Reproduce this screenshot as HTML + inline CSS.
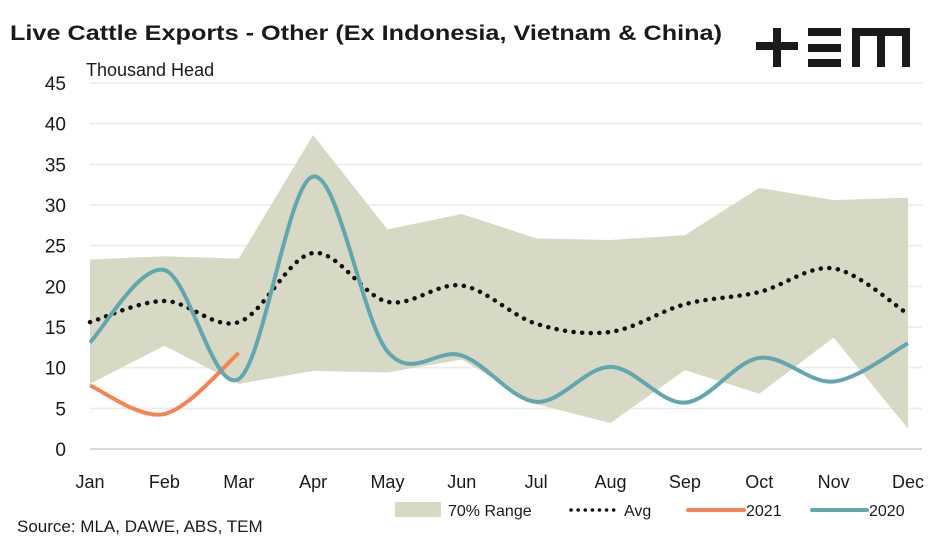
<!DOCTYPE html>
<html><head><meta charset="utf-8"><style>
body{margin:0;background:#fff;font-family:"Liberation Sans",sans-serif}
svg text{font-family:"Liberation Sans",sans-serif;fill:#1a1a1a}
</style></head><body>
<svg id="c" width="945" height="543" viewBox="0 0 945 543">
<text x="10" y="40" font-size="21" font-weight="bold" textLength="712" lengthAdjust="spacingAndGlyphs">Live Cattle Exports - Other (Ex Indonesia, Vietnam &amp; China)</text>
<text x="86" y="76" font-size="18">Thousand Head</text>
<g fill="#1a1a1a">
<rect x="756" y="42" width="42" height="8"/><rect x="773" y="28" width="8" height="39"/>
<rect x="808" y="28" width="33" height="8"/><rect x="808" y="44" width="33" height="8"/><rect x="808" y="59" width="33" height="8"/>
<rect x="852" y="28" width="58" height="8"/><rect x="852" y="28" width="8" height="39"/><rect x="877" y="28" width="8" height="39"/><rect x="902" y="28" width="8" height="39"/>
</g>
<g id="grid"></g><g id="plot"></g><g id="axes"></g>
<g>
<rect x="395" y="502" width="46" height="15" fill="#d8d9c5"/>
<text x="448" y="516" font-size="16">70% Range</text>
<line x1="571" y1="510" x2="616" y2="510" stroke="#111" stroke-width="3.5" stroke-dasharray="0.1 7" stroke-linecap="round"/>
<text x="624" y="516" font-size="16">Avg</text>
<line x1="688" y1="510" x2="744" y2="510" stroke="#f58452" stroke-width="4" stroke-linecap="round"/>
<text x="746" y="516" font-size="16">2021</text>
<line x1="812" y1="510" x2="867" y2="510" stroke="#62a6b0" stroke-width="4" stroke-linecap="round"/>
<text x="869" y="516" font-size="16">2020</text>
</g>
<text x="17" y="532" font-size="17">Source: MLA, DAWE, ABS, TEM</text>
</svg>
<script>
const months=["Jan","Feb","Mar","Apr","May","Jun","Jul","Aug","Sep","Oct","Nov","Dec"];
const rangeHigh=[23.3,23.7,23.4,38.6,27,28.9,25.9,25.7,26.3,32.1,30.6,30.9];
const rangeLow=[8,12.7,8,9.6,9.4,11,5.5,3.2,9.7,6.8,13.7,2.5];
const avg=[15.6,18.2,15.6,24.1,18.1,20.1,15.4,14.4,17.8,19.3,22.2,16.6];
const s2020=[13.1,22,8.6,33.5,12,11.5,5.8,10.1,5.7,11.2,8.3,13];
const s2021=[7.8,4.3,11.8];
const yTicks=[0,5,10,15,20,25,30,35,40,45];
const NS="http://www.w3.org/2000/svg";
const X0=90,X1=908,Y0=449,Y1=83,YMAX=45;
const x=i=>X0+i*(X1-X0)/(months.length-1);
const y=v=>Y0-(v/YMAX)*(Y0-Y1);
function mk(t,a,p){const e=document.createElementNS(NS,t);for(const k in a)e.setAttribute(k,a[k]);p.appendChild(e);return e;}
const grid=document.getElementById('grid'),plot=document.getElementById('plot'),axes=document.getElementById('axes');
yTicks.forEach(v=>{
 const l=mk('line',{x1:X0,x2:922,y1:y(v),y2:y(v),stroke:v===0?'#d9d9d9':'#ecece4','stroke-width':v===0?2:1.5},grid);
 
 
 const t=mk('text',{x:66,y:y(v)+7,'font-size':19,'text-anchor':'end'},axes);t.textContent=v;
 
 
});
months.forEach((m,i)=>{
 const t=mk('text',{x:x(i),y:488,'font-size':18,'text-anchor':'middle'},axes);t.textContent=m;
 
 
});
let pts=rangeHigh.map((v,i)=>x(i)+','+y(v));
for(let i=rangeLow.length-1;i>=0;i--)pts.push(x(i)+','+y(rangeLow[i]));
const area=mk('polygon',{points:pts.join(' '),fill:'#d8d9c5'},plot);


function smooth(arr){
 const p=arr.map((v,i)=>[x(i),y(v)]);let d='M'+p[0][0]+','+p[0][1];
 for(let i=0;i<p.length-1;i++){const a=p[i-1]||p[i],b=p[i],c=p[i+1],e=p[i+2]||c;
  d+=' C'+(b[0]+(c[0]-a[0])/6)+','+(b[1]+(c[1]-a[1])/6)+' '+(c[0]-(e[0]-b[0])/6)+','+(c[1]-(e[1]-b[1])/6)+' '+c[0]+','+c[1];}
 return d;}
const la=mk('path',{d:smooth(avg),fill:'none',stroke:'#111','stroke-width':4.5,'stroke-dasharray':'0.1 8.5','stroke-linecap':'round'},plot);


const l21=mk('path',{d:smooth(s2021),fill:'none',stroke:'#f58452','stroke-width':4},plot);


const l20=mk('path',{d:smooth(s2020),fill:'none',stroke:'#62a6b0','stroke-width':4},plot);


</script>
</body></html>
